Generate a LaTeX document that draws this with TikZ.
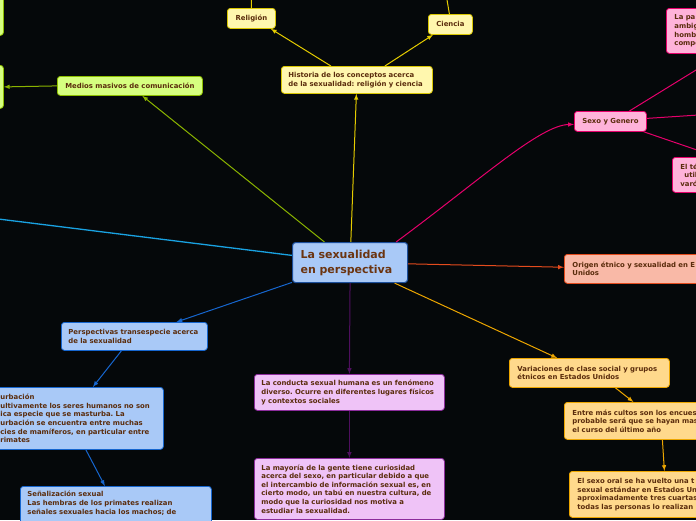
\documentclass[tikz,border=0pt]{standalone}
\usepackage{fontspec}
\setmainfont{DejaVu Sans}
\frenchspacing
\definecolor{fondo}{HTML}{05080A}
\definecolor{marron}{HTML}{5A2C0C}
\definecolor{marronC}{HTML}{6B3410}
\definecolor{azulF}{HTML}{A9C9F7}
\definecolor{azulB}{HTML}{1666CF}
\definecolor{centroB}{HTML}{1C4F9C}
\definecolor{cian}{HTML}{19A2E2}
\definecolor{verdeF}{HTML}{D6FF80}
\definecolor{verdeB}{HTML}{8DBF00}
\definecolor{verdeL}{HTML}{8AB300}
\definecolor{amaF}{HTML}{FFF7AE}
\definecolor{amaB}{HTML}{D9C600}
\definecolor{amaL}{HTML}{E5CC00}
\definecolor{rosaF}{HTML}{FFB3DA}
\definecolor{rosaB}{HTML}{E6006B}
\definecolor{salmF}{HTML}{F9B9A7}
\definecolor{salmB}{HTML}{E44B1D}
\definecolor{narF}{HTML}{FFD98C}
\definecolor{narB}{HTML}{EDA600}
\definecolor{violF}{HTML}{EFC3F7}
\definecolor{violB}{HTML}{8C2C9C}
\definecolor{violL}{HTML}{4F0F5F}
\tikzset{
  caja/.style={draw, rounded corners=3pt, inner xsep=7pt, inner ysep=3pt, anchor=north west,
    line width=0.8pt, align=left, text=marron, font=\bfseries\fontsize{6.9}{8.6}\selectfont},
  central/.style={caja, fill=azulF, draw=centroB, line width=1.1pt, text=marronC,
    font=\bfseries\fontsize{11}{15}\selectfont},
  azul/.style={caja, fill=azulF, draw=azulB},
  verde/.style={caja, fill=verdeF, draw=verdeB},
  amarilla/.style={caja, fill=amaF, draw=amaB},
  rosa/.style={caja, fill=rosaF, draw=rosaB},
  salmon/.style={caja, fill=salmF, draw=salmB},
  naranja/.style={caja, fill=narF, draw=narB},
  violeta/.style={caja, fill=violF, draw=violB}
}
\begin{document}
\begin{tikzpicture}[x=1pt, y=-1pt, >=latex, line width=1pt]
\fill[fondo] (0,0) rectangle (696,520);
\useasboundingbox (0,0) rectangle (696,520);
\clip (0,0) rectangle (696,520);
% raiz
\node[central, text width=99pt, inner xsep=8pt, minimum height=40pt] (raiz) at (292,242) {La sexualidad\\en perspectiva};
% historia
\node[amarilla, text width=137pt, minimum height=27pt] (hist) at (281,66) {Historia de los conceptos acerca\\de la sexualidad: religión y ciencia};
\node[amarilla, minimum width=48pt, minimum height=20pt] (relig) at (227,8) {Religión};
\node[amarilla, minimum width=44pt, minimum height=20pt] (cien) at (428,14) {Ciencia};
\coordinate (religArr) at (251,-20);
\coordinate (cienArr) at (445,-12);
% medios
\node[verde, minimum width=145pt, minimum height=19pt] (medios) at (57,76) {Medios masivos de comunicación};
\node[verde, minimum width=24pt, minimum height=40pt] (gsup) at (-21,-5) {};
\node[verde, minimum width=24pt, minimum height=43pt] (ginf) at (-21,65) {};
\coordinate (cianFin) at (-50,213);
% sexo y genero
\node[rosa, minimum width=72pt, minimum height=20pt] (sexo) at (574,111) {Sexo y Genero};
\node[rosa, text width=96pt, minimum height=45pt, inner xsep=8pt] (lapa) at (666,8) {La pa\\ambig\\homb\\compe};
\node[rosa, text width=74pt, minimum height=35pt, inner xsep=8pt] (elte) at (672,157) {El té\\\hspace{4pt}util\\varó};
\coordinate (sexoDer) at (790,109);
% origen y clase social
\node[salmon, text width=136pt, minimum height=29pt, inner xsep=8pt] (origen) at (564,254) {Origen étnico y sexualidad en E\\Unidos};
\node[naranja, text width=144pt, minimum height=29pt, inner xsep=8pt] (variac) at (509,358) {Variaciones de clase social y grupos\\étnicos en Estados Unidos};
\node[naranja, text width=136pt, minimum height=37pt, inner xsep=8pt] (entre) at (564,402) {Entre más cultos son los encues\\probable será que se hayan mas\\el curso del último año};
\node[naranja, text width=136pt, minimum height=46pt, inner xsep=8pt] (oral) at (569,471) {El sexo oral se ha vuelto una t\\sexual estándar en Estados Un\\aproximadamente tres cuartas\\todas las personas lo realizan};
% conducta
\node[violeta, text width=176pt, minimum height=36pt] (conducta) at (254,374) {La conducta sexual humana es un fenómeno\\diverso. Ocurre en diferentes lugares físicos\\y contextos sociales};
\node[violeta, text width=176pt, minimum height=61pt] (mayoria) at (254,458) {La mayoría de la gente tiene curiosidad\\acerca del sexo, en particular debido a que\\el intercambio de información sexual es, en\\cierto modo, un tabú en nuestra cultura, de\\modo que la curiosidad nos motiva a\\estudiar la sexualidad.};
% transespecie
\node[azul, text width=132pt, minimum height=28pt] (persp) at (61,322) {Perspectivas transespecie acerca\\de la sexualidad};
\node[azul, text width=155pt, minimum height=62pt, inner xsep=8pt] (mast) at (-8,387) {urbación\\ultivamente los seres humanos no son\\ica especie que se masturba. La\\urbación se encuentra entre muchas\\cies de mamíferos, en particular entre\\rimates};
\node[azul, text width=177pt, inner xsep=7pt, inner ysep=5pt] (senal) at (20,486) {Señalización sexual\\Las hembras de los primates realizan\\señales sexuales hacia los machos; de\\\phantom{l}};
% conectores
\draw[cian, line width=1.3pt] (raiz) -- (cianFin);
\draw[verdeL, ->] (raiz) -- (medios);
\draw[verdeL, ->] (medios.west) -- (ginf.east);
\draw[amaL, ->] (raiz) -- (hist);
\draw[amaL, ->] ([xshift=-26pt]hist.north) -- ([xshift=-5pt]relig.south east);
\draw[amaL, ->] ([xshift=28pt]hist.north) -- ([xshift=5pt]cien.south west);
\draw[amaL, ->] (relig.north) -- (religArr);
\draw[amaL, ->] ([xshift=-1pt]cien.north) -- (cienArr);
\draw[rosaB, ->] ([xshift=-12pt]raiz.north east) .. controls (480,180) and (540,125) .. ([yshift=-3pt]sexo.west);
\draw[rosaB, ->] ([xshift=19pt]sexo.north) -- (lapa.south);
\draw[rosaB, ->] ([yshift=3pt]sexo.east) -- (sexoDer);
\draw[rosaB, ->] ([xshift=-3pt]sexo.south east) -- (elte.north);
\draw[salmB, ->] (raiz) -- (origen);
\draw[narB, ->] (raiz) -- (variac);
\draw[narB, ->] ([xshift=26pt]variac.south) -- ([xshift=-7pt]entre.north);
\draw[narB, ->] ([xshift=22pt]entre.south) -- ([xshift=19pt]oral.north);
\draw[violL, ->] (raiz.south) -- (conducta.north);
\draw[violL, ->] (conducta.south) -- (mayoria.north);
\draw[azulB, ->] (raiz) -- (persp);
\draw[azulB, ->] ([xshift=-13pt]persp.south) -- ([xshift=15pt]mast.north);
\draw[azulB, ->] ([xshift=8pt]mast.south) -- ([xshift=-11pt]senal.north);
\end{tikzpicture}
\end{document}
